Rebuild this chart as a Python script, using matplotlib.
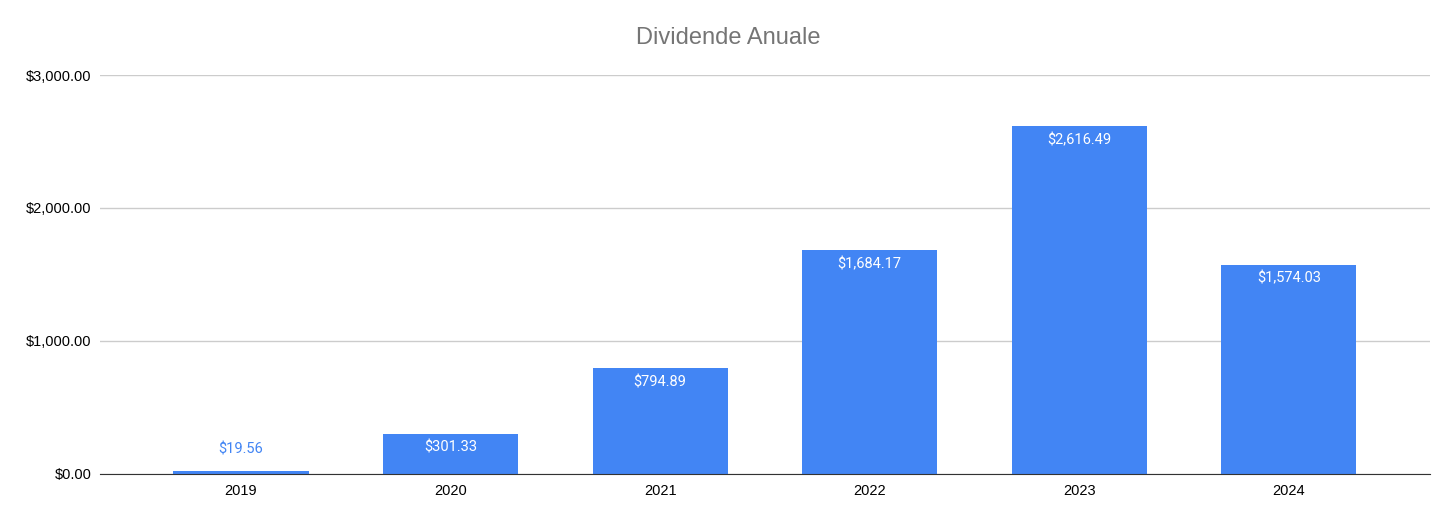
import matplotlib
matplotlib.use("Agg")
import matplotlib.pyplot as plt

# date
years = ["2019", "2020", "2021", "2022", "2023", "2024"]
dividends = [19.56, 301.33, 794.89, 1684.17, 2616.49, 1574.03]
y_ticks = [0, 1000, 2000, 3000]

BAR_COLOR = "#4285F4"

plt.rcParams["font.family"] = ["Roboto", "DejaVu Sans"]
ARIAL = ["Liberation Sans", "DejaVu Sans"]

fig = plt.figure(figsize=(14.56, 5.22), dpi=100)
ax = fig.add_axes([0.0687, 0.092, 0.9133, 0.7643])

x = list(range(len(years)))
bars = ax.bar(x, dividends, width=0.645, color=BAR_COLOR, zorder=3)

# etichete valori
for xi, v in zip(x, dividends):
    label = "${:,.2f}".format(v)
    if v < 200:
        ax.annotate(label, (xi, v), xytext=(0, 11), textcoords="offset points",
                    ha="center", va="bottom", color=BAR_COLOR, fontsize=10.5)
    else:
        ax.annotate(label, (xi, v), xytext=(0, -5), textcoords="offset points",
                    ha="center", va="top", color="white", fontsize=10.5)

ax.set_xlim(-0.673, 5.673)
ax.set_ylim(0, 3000)
ax.set_xticks(x)
ax.set_xticklabels(years, fontsize=10.5, family=ARIAL)
ax.set_yticks(y_ticks)
ax.set_yticklabels(["${:,.2f}".format(t) for t in y_ticks], fontsize=10.5, family=ARIAL)
ax.tick_params(axis="y", length=0, pad=6)
ax.tick_params(axis="x", length=0, pad=7)
ax.yaxis.grid(True, color="#cccccc", linewidth=1, zorder=0)

for s in ["top", "right", "left"]:
    ax.spines[s].set_visible(False)
ax.spines["bottom"].set_color("#333333")
ax.spines["bottom"].set_zorder(4)

fig.text(0.5, 0.927, "Dividende Anuale", ha="center", va="center",
         fontsize=17, color="#757575", family=ARIAL)

fig.savefig("out.png", dpi=100, facecolor="white")
